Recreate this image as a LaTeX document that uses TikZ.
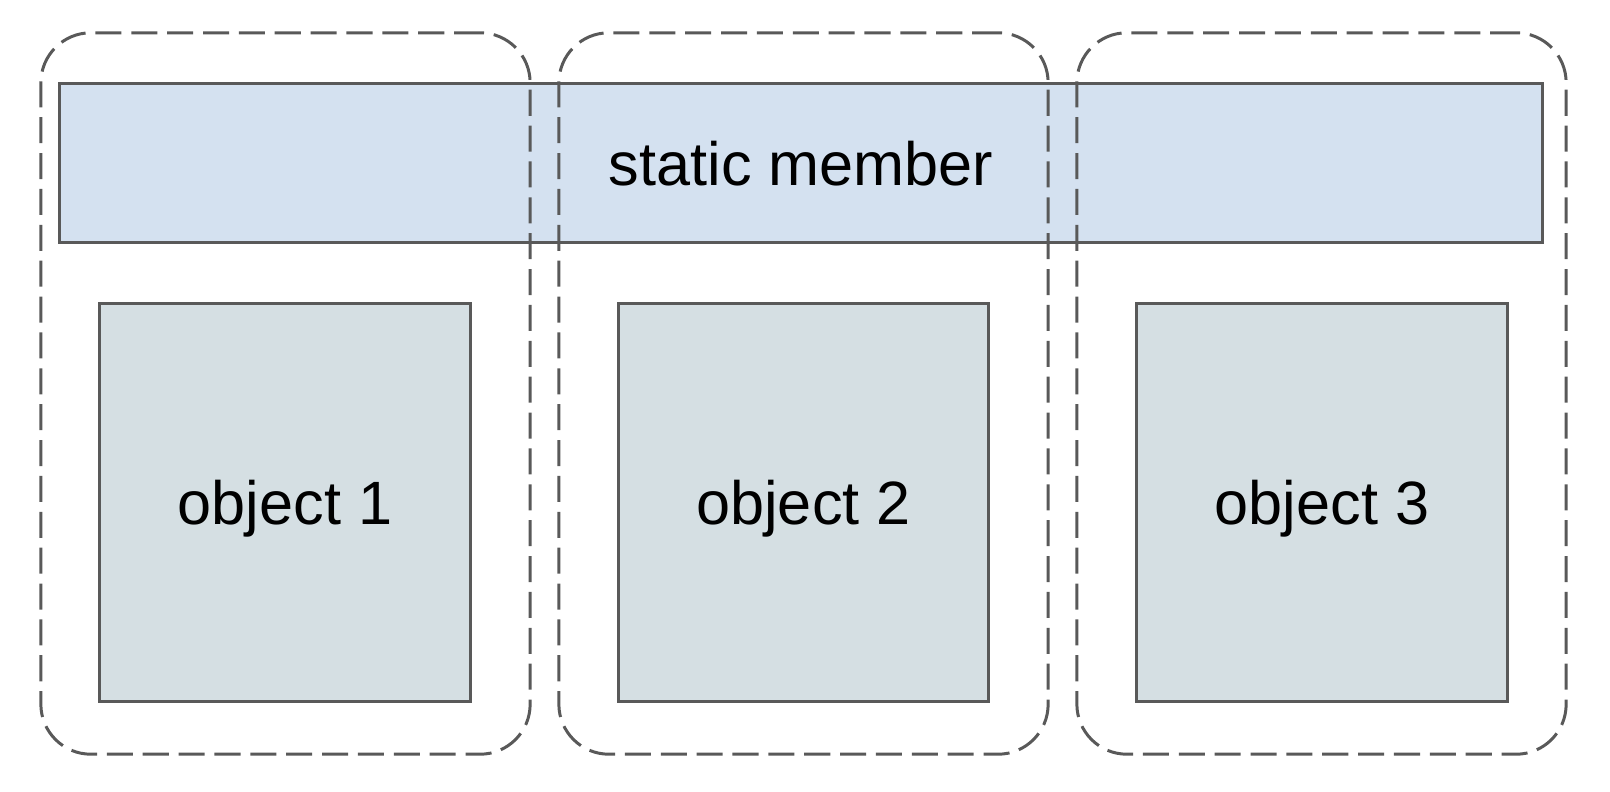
\documentclass[tikz,border=0pt]{standalone}
\usepackage{fontspec}
\setmainfont{Liberation Sans}
\usepackage{xcolor}
\definecolor{edge}{HTML}{595959}
\definecolor{shared}{HTML}{D4E1F0}
\definecolor{instance}{HTML}{D5DFE3}
\usepackage{tikz}
\usetikzlibrary{positioning}

\begin{document}
\begin{tikzpicture}[
  x=0.01cm, y=-0.01cm,
  member/.style={draw=edge, line width=0.85pt, fill=shared,
                 minimum width=14.82cm, minimum height=1.58cm,
                 font=\fontsize{17.4}{21}\selectfont, inner sep=0pt,
                 text depth=0pt},
  obj/.style={draw=edge, line width=0.85pt, fill=instance,
              minimum width=3.70cm, minimum height=3.97cm,
              font=\fontsize{17.4}{21}\selectfont, inner sep=0pt,
              text depth=0pt},
  scopebox/.style={draw=edge, line width=0.85pt, rounded corners=0.5cm,
                   dash pattern=on 7.4pt off 2.8pt,
                   minimum width=4.89cm, minimum height=7.21cm, inner sep=0pt}
]
\useasboundingbox (0,0) rectangle (1610,792);
\node[member] (static) at (801,163) {static member};
\node[obj] (obj1) at (285,502.5) {object 1};
\node[obj] (obj2) at (803.5,502.5) {object 2};
\node[obj] (obj3) at (1322,502.5) {object 3};
% dashed outlines drawn over the shared member
\foreach \i/\cx in {1/285.5, 2/803.5, 3/1321.5}
  \node[scopebox] (scope\i) at (\cx,393.5) {};
\end{tikzpicture}
\end{document}
